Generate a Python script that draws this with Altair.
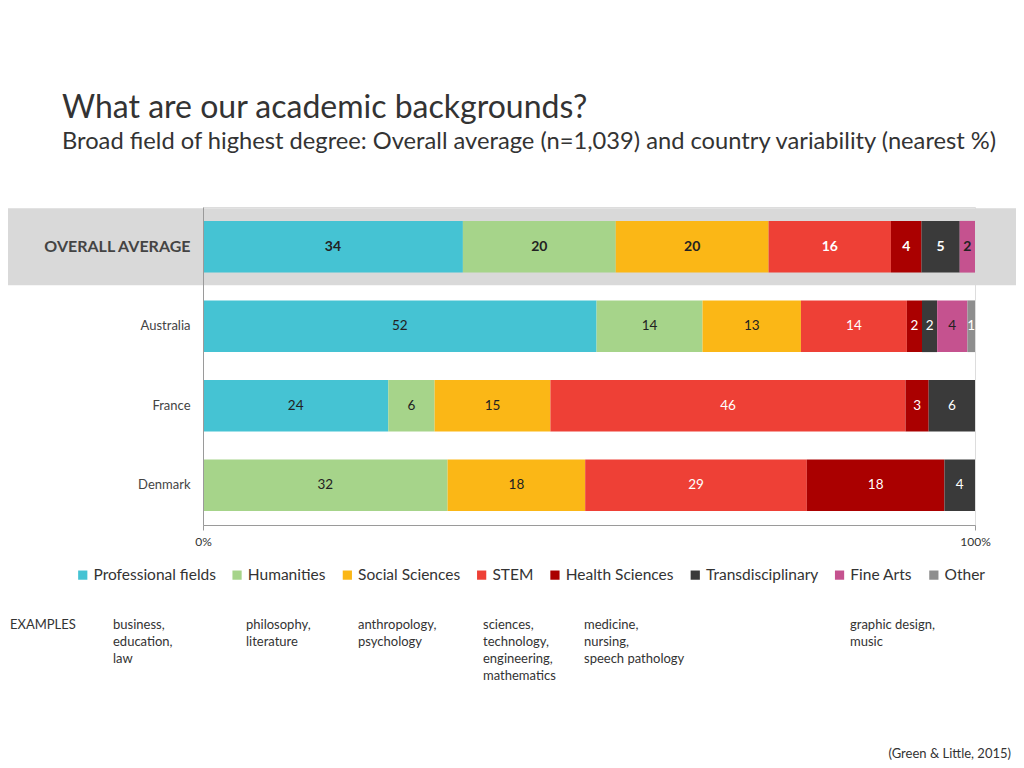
import altair as alt
import pandas as pd

FONT = "Lato"

groups = ["OVERALL AVERAGE", "Australia", "France", "Denmark"]
fields = ["Professional fields", "Humanities", "Social Sciences", "STEM",
          "Health Sciences", "Transdisciplinary", "Fine Arts", "Other"]
colors = ["#45C3D3", "#A6D48A", "#FBB716", "#EE4036",
          "#AA0000", "#3A3A3A", "#C5528F", "#8E8E8E"]

overall = [34, 20, 20, 16, 4, 5, 2, 0]
australia = [52, 14, 13, 14, 2, 2, 4, 1]
france = [24, 6, 15, 46, 3, 6, 0, 0]
denmark = [0, 32, 18, 29, 18, 4, 0, 0]

example_texts = [
    "EXAMPLES",
    "business,\neducation,\nlaw",
    "philosophy,\nliterature",
    "anthropology,\npsychology",
    "sciences,\ntechnology,\nengineering,\nmathematics",
    "medicine,\nnursing,\nspeech pathology",
    "graphic design,\nmusic",
]
source_text = "(Green & Little, 2015)"
title_text = "What are our academic backgrounds?"
subtitle_text = "Broad field of highest degree: Overall average (n=1,039) and country variability (nearest %)"

rows = []
for g, vals in zip(groups, [overall, australia, france, denmark]):
    for i, (f, v) in enumerate(zip(fields, vals)):
        if v > 0:
            rows.append({"group": g, "field": f, "order": i, "value": v})
df = pd.DataFrame(rows)

W, H = 772, 318
base = alt.Chart(df)

y_enc = alt.Y(
    "group:N", sort=groups, title=None,
    scale=alt.Scale(domain=groups, paddingInner=0.35, paddingOuter=0.175),
    axis=alt.Axis(
        ticks=False, domainColor="#9a9a9a", labelPadding=13, zindex=1,
        labelColor="#444444", labelFont=FONT,
        labelFontSize=alt.expr("datum.value == 'OVERALL AVERAGE' ? 16 : 13"),
        labelFontWeight=alt.expr("datum.value == 'OVERALL AVERAGE' ? 'bold' : 'normal'"),
    ),
)

stacked = base.transform_stack(
    stack="value", groupby=["group"], as_=["x0", "x1"],
    offset="normalize", sort=[alt.SortField("order")],
)

band = base.transform_filter(alt.datum.group == groups[0]).transform_aggregate(
    n="count()", groupby=["group"]
).mark_bar(height=77, color="#D9D9D9").encode(
    y=y_enc, x=alt.value(-203), x2=alt.value(821)
)

x_scale = alt.Scale(domain=[0, 1], nice=False)
bars = stacked.mark_bar().encode(
    y=y_enc,
    x=alt.X("x0:Q", scale=x_scale, title=None,
            axis=alt.Axis(values=[0, 1], format="%", grid=False, labelFlush=False,
                          domainColor="#9a9a9a", tickColor="#9a9a9a", tickSize=5,
                          labelFont=FONT, labelFontSize=12, labelColor="#333333",
                          labelPadding=6, zindex=1)),
    x2="x1:Q",
    color=alt.Color("field:N", sort=fields,
                    scale=alt.Scale(domain=fields, range=colors),
                    legend=alt.Legend(
                        title=None, orient="none", direction="horizontal",
                        legendX=-128, legendY=360, columns=8,
                        symbolType="square", symbolSize=85, symbolStrokeWidth=0,
                        labelFont=FONT, labelFontSize=15.5, labelColor="#333333",
                        columnPadding=13.3, labelOffset=3)),
)

text_base = stacked.transform_calculate(
    mid="(datum.x0 + datum.x1) / 2",
    tcolor="indexof(['STEM','Health Sciences','Transdisciplinary','Other'], datum.field) >= 0 ? 'white' : '#222222'",
)
labels_bold = text_base.transform_filter(alt.datum.group == groups[0]).mark_text(
    font=FONT, fontSize=14, fontWeight="bold"
).encode(y=y_enc, x=alt.X("mid:Q", scale=x_scale), text="value:Q",
         color=alt.Color("tcolor:N", scale=None))
labels = text_base.transform_filter(alt.datum.group != groups[0]).mark_text(
    font=FONT, fontSize=13.5
).encode(y=y_enc, x=alt.X("mid:Q", scale=x_scale), text="value:Q",
         color=alt.Color("tcolor:N", scale=None))

ex_x = [-193, -90, 43, 155, 280, 381, 647]
ex_layers = []
for t, xp in zip(example_texts, ex_x):
    ex_layers.append(
        alt.Chart(pd.DataFrame({"t": [t]})).mark_text(
            font=FONT, fontSize=13, align="left", baseline="middle",
            lineBreak="\n", lineHeight=17, color="#333333"
        ).encode(text="t:N", x=alt.value(xp), y=alt.value(418))
    )

source = alt.Chart(pd.DataFrame({"t": [source_text]})).mark_text(
    font=FONT, fontSize=13, align="right", baseline="middle", color="#333333"
).encode(text="t:N", x=alt.value(808), y=alt.value(547))

chart = alt.layer(band, bars, labels_bold, labels, *ex_layers, source).properties(
    width=W, height=H,
    title=alt.Title(title_text, subtitle=subtitle_text, anchor="start", frame="group",
                    dx=-141, offset=52, font=FONT, fontSize=32, fontWeight="normal",
                    color="#333333", subtitleFont=FONT, subtitleFontSize=23.7,
                    subtitleColor="#333333", subtitlePadding=5),
    autosize=alt.AutoSizeParams(type="none"),
    padding={"left": 195, "top": 199, "right": 41, "bottom": 235},
).configure_view(stroke=None).configure(background="white")

chart.save("out.html", embed_options={"renderer": "svg", "actions": False})
